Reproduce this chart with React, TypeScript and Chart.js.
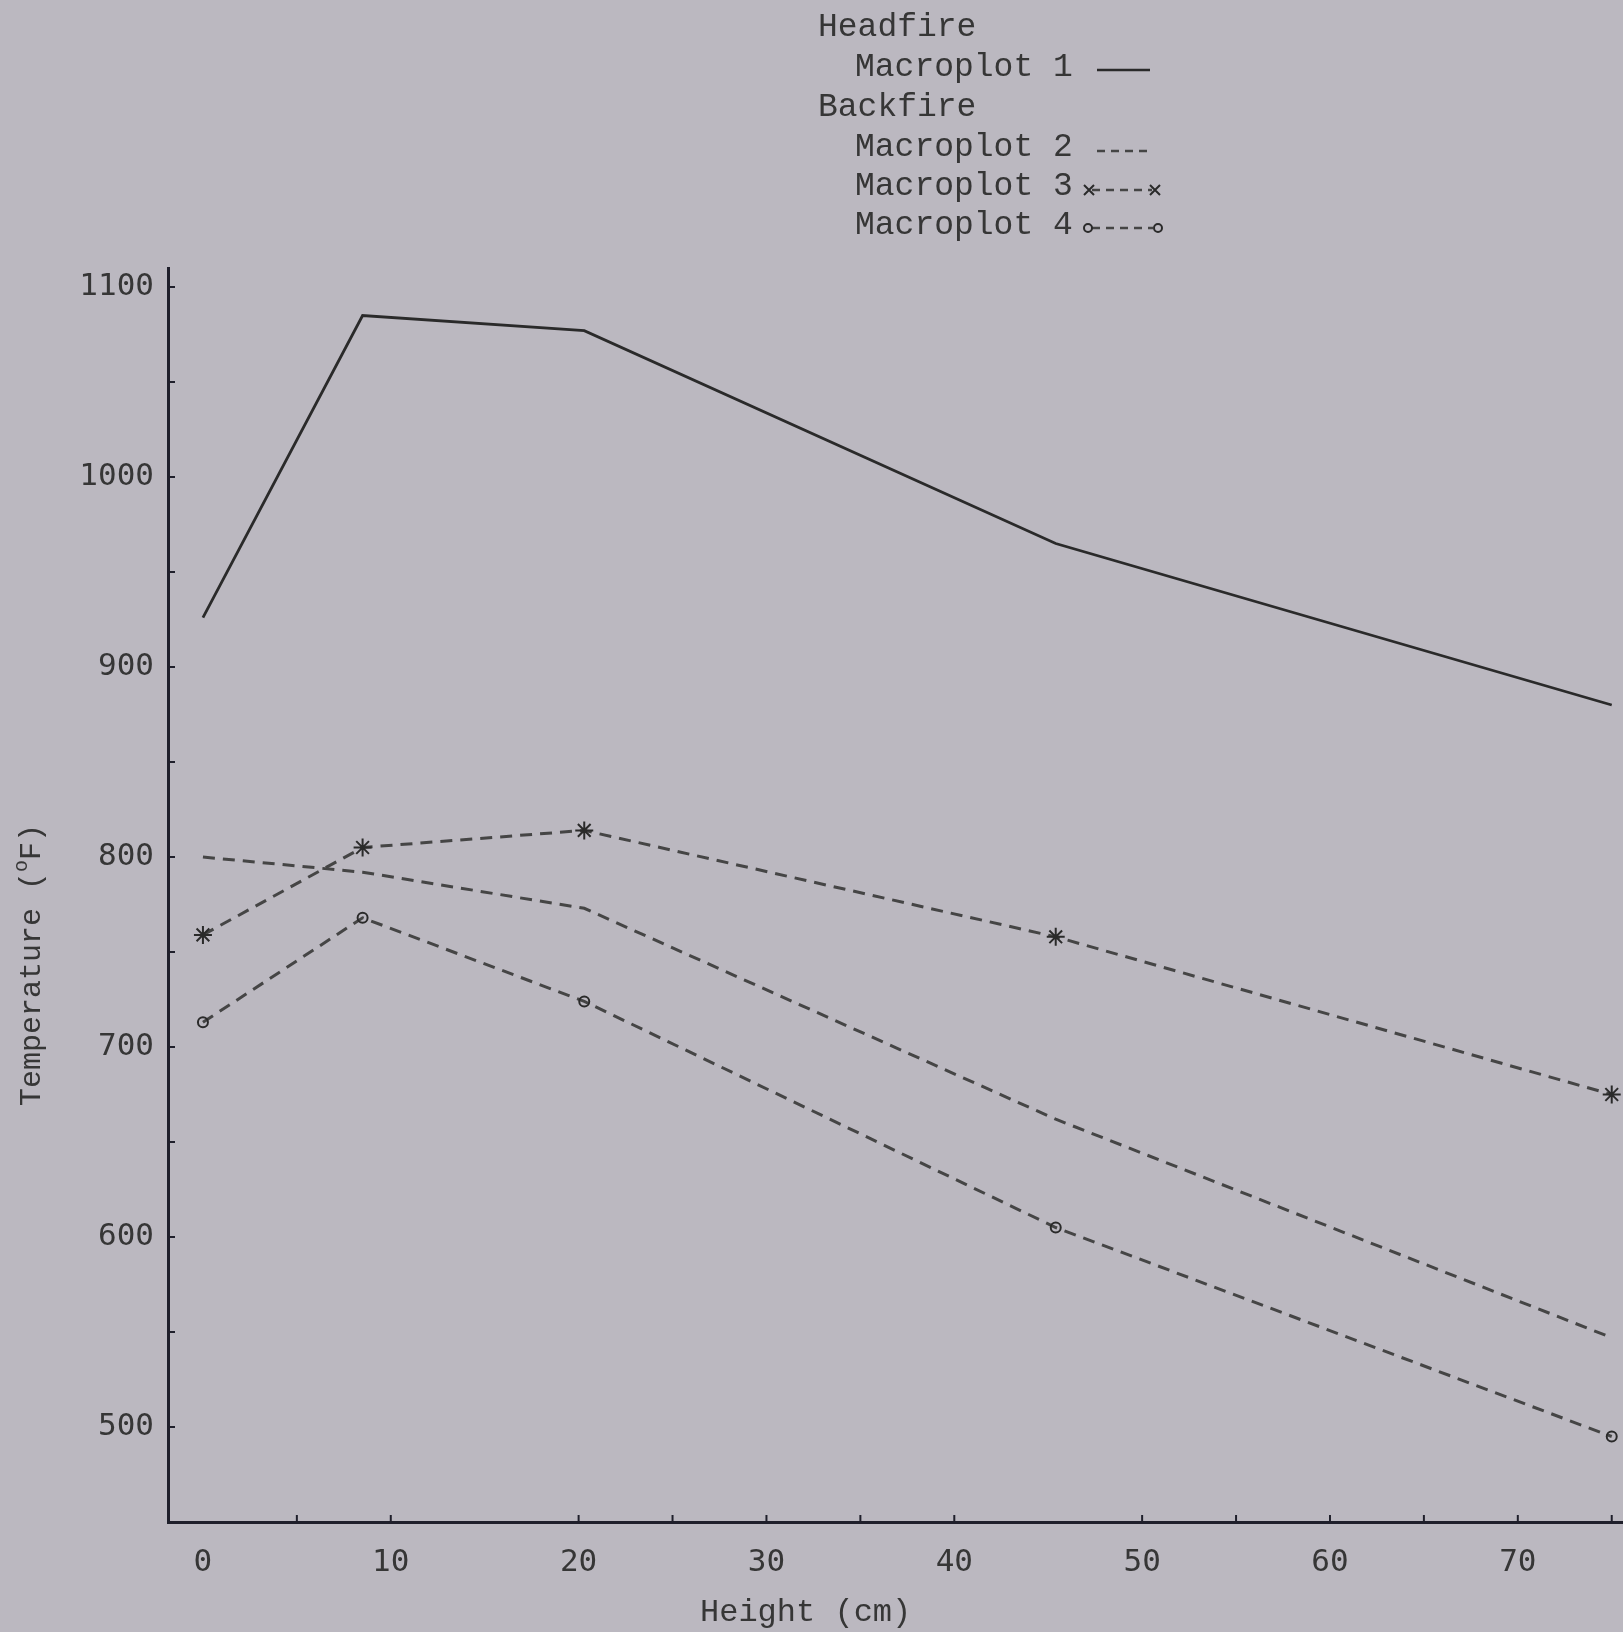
import React, { useEffect, useRef } from "react";
import { Chart, registerables } from "chart.js";

Chart.register(...registerables);

// ---- data ----
const heights = [0, 8.5, 20.3, 45.4, 75];
const macroplot1 = [926, 1085, 1077, 965, 880];
const macroplot2 = [800, 792, 773, 662, 547];
const macroplot3 = [759, 805, 814, 758, 675];
const macroplot4 = [713, 768, 724, 605, 495];

const yTickLabels = [500, 600, 700, 800, 900, 1000, 1100];
const xTickLabels = [0, 10, 20, 30, 40, 50, 60, 70];
const yTickMarks = [500, 550, 600, 650, 700, 750, 800, 850, 900, 950, 1000, 1050, 1100];
const xTickMarks = [5, 10, 20, 25, 30, 35, 40, 50, 55, 60, 65, 70, 75];

const xTitle = "Height (cm)";
const yTitleParts = ["Temperature (", "o", "F)"];
const legendGroups = ["Headfire", "Backfire"];
const seriesNames = ["Macroplot 1", "Macroplot 2", "Macroplot 3", "Macroplot 4"];

// ---- styles ----
const BG = "#bbb8c0";
const AXIS = "#1f1f2b";
const INK = "#363636";
const SOLID = "#2a2a2a";
const DASHED = "#454545";
const DASH = [12, 8];
const MONO = "'Liberation Mono', 'DejaVu Sans Mono', monospace";
const TICKFONT = "'DejaVu Sans Mono', monospace";

const toPts = (vals: number[]) => heights.map((h, i) => ({ x: h, y: vals[i] }));

const bgPlugin = {
  id: "bgFill",
  beforeDraw(chart: any) {
    const { ctx, width, height } = chart;
    ctx.save();
    ctx.fillStyle = BG;
    ctx.fillRect(0, 0, width, height);
    ctx.restore();
  },
};

function drawX(ctx: CanvasRenderingContext2D, x: number, y: number, r: number) {
  ctx.beginPath();
  ctx.moveTo(x - r, y - r);
  ctx.lineTo(x + r, y + r);
  ctx.moveTo(x - r, y + r);
  ctx.lineTo(x + r, y - r);
  ctx.stroke();
}

const decorPlugin = {
  id: "decor",
  afterDraw(chart: any) {
    const ctx: CanvasRenderingContext2D = chart.ctx;
    const xs = chart.scales.x;
    const ys = chart.scales.y;
    const area = chart.chartArea;
    ctx.save();

    // inward tick marks
    ctx.strokeStyle = AXIS;
    ctx.lineWidth = 2;
    yTickMarks.forEach((v) => {
      const py = ys.getPixelForValue(v);
      ctx.beginPath();
      ctx.moveTo(area.left, py);
      ctx.lineTo(area.left + 7, py);
      ctx.stroke();
    });
    xTickMarks.forEach((v) => {
      const px = xs.getPixelForValue(v);
      ctx.beginPath();
      ctx.moveTo(px, area.bottom);
      ctx.lineTo(px, area.bottom - 7);
      ctx.stroke();
    });

    // axis titles
    ctx.fillStyle = INK;
    ctx.font = `32px ${MONO}`;
    ctx.textBaseline = "middle";
    ctx.textAlign = "left";
    ctx.fillText(xTitle, 700, 1613);

    ctx.save();
    ctx.translate(30, 965);
    ctx.rotate(-Math.PI / 2);
    const big = `30px ${MONO}`;
    const small = `20px ${MONO}`;
    ctx.font = big;
    const w0 = ctx.measureText(yTitleParts[0]).width;
    ctx.font = small;
    const w1 = ctx.measureText(yTitleParts[1]).width;
    ctx.font = big;
    const w2 = ctx.measureText(yTitleParts[2]).width;
    let cx = -(w0 + w1 + w2) / 2;
    ctx.textBaseline = "alphabetic";
    ctx.fillText(yTitleParts[0], cx, 10);
    cx += w0;
    ctx.font = small;
    ctx.fillText(yTitleParts[1], cx, -3);
    cx += w1;
    ctx.font = big;
    ctx.fillText(yTitleParts[2], cx, 10);
    ctx.restore();

    // legend
    ctx.font = `33px ${MONO}`;
    ctx.textBaseline = "alphabetic";
    ctx.fillStyle = INK;
    const base = [36, 76, 116, 156, 195, 234];
    ctx.fillText(legendGroups[0], 818, base[0]);
    ctx.fillText(seriesNames[0], 855, base[1]);
    ctx.fillText(legendGroups[1], 818, base[2]);
    ctx.fillText(seriesNames[1], 855, base[3]);
    ctx.fillText(seriesNames[2], 855, base[4]);
    ctx.fillText(seriesNames[3], 855, base[5]);

    // legend samples
    ctx.strokeStyle = SOLID;
    ctx.lineWidth = 2.5;
    ctx.beginPath();
    ctx.moveTo(1097, base[1] - 6);
    ctx.lineTo(1150, base[1] - 6);
    ctx.stroke();

    ctx.strokeStyle = DASHED;
    ctx.lineWidth = 2.5;
    ctx.setLineDash([8, 6]);
    ctx.beginPath();
    ctx.moveTo(1097, base[3] - 5);
    ctx.lineTo(1152, base[3] - 5);
    ctx.stroke();
    ctx.beginPath();
    ctx.moveTo(1092, base[4] - 5);
    ctx.lineTo(1152, base[4] - 5);
    ctx.stroke();
    ctx.beginPath();
    ctx.moveTo(1092, base[5] - 6);
    ctx.lineTo(1153, base[5] - 6);
    ctx.stroke();
    ctx.setLineDash([]);
    ctx.lineWidth = 2;
    ctx.strokeStyle = SOLID;
    drawX(ctx, 1089, base[4] - 5, 5);
    drawX(ctx, 1155, base[4] - 5, 5);
    ctx.beginPath();
    ctx.arc(1088, base[5] - 6, 4, 0, Math.PI * 2);
    ctx.stroke();
    ctx.beginPath();
    ctx.arc(1158, base[5] - 6, 4, 0, Math.PI * 2);
    ctx.stroke();

    ctx.restore();
  },
};

export default function App() {
  const ref = useRef<HTMLCanvasElement | null>(null);

  useEffect(() => {
    document.body.style.margin = "0";
    document.body.style.background = BG;
    const canvas = ref.current;
    if (!canvas) return;
    const chart = new Chart(canvas, {
      type: "line",
      data: {
        datasets: [
          {
            label: seriesNames[0],
            data: toPts(macroplot1),
            borderColor: SOLID,
            borderWidth: 2.8,
            pointRadius: 0,
            tension: 0,
            clip: false,
          },
          {
            label: seriesNames[1],
            data: toPts(macroplot2),
            borderColor: DASHED,
            borderWidth: 3,
            borderDash: DASH,
            pointRadius: 0,
            tension: 0,
            clip: false,
          },
          {
            label: seriesNames[2],
            data: toPts(macroplot3),
            borderColor: DASHED,
            borderWidth: 3,
            borderDash: DASH,
            pointStyle: "star",
            pointRadius: 9,
            pointBorderColor: SOLID,
            pointBackgroundColor: SOLID,
            pointBorderWidth: 2,
            tension: 0,
            clip: false,
          },
          {
            label: seriesNames[3],
            data: toPts(macroplot4),
            borderColor: DASHED,
            borderWidth: 3,
            borderDash: DASH,
            pointStyle: "circle",
            pointRadius: 5,
            pointBorderColor: SOLID,
            pointBackgroundColor: "rgba(0,0,0,0)",
            pointBorderWidth: 2,
            tension: 0,
            clip: false,
          },
        ],
      } as any,
      options: {
        animation: false,
        responsive: false,
        devicePixelRatio: 1,
        layout: { autoPadding: false, padding: { top: 268, left: 0, right: 0, bottom: 0 } },
        plugins: {
          legend: { display: false },
          tooltip: { enabled: false },
          title: { display: false },
        },
        scales: {
          x: {
            type: "linear",
            min: -1.86,
            max: 75.6,
            grid: { display: false, drawTicks: false },
            border: { display: true, color: AXIS, width: 3 },
            afterBuildTicks: (scale: any) => {
              scale.ticks = xTickLabels.map((v) => ({ value: v }));
            },
            afterFit: (scale: any) => {
              scale.height = 110;
              scale.paddingLeft = 0;
              scale.paddingRight = 0;
            },
            ticks: {
              autoSkip: false,
              maxRotation: 0,
              padding: 22,
              color: INK,
              font: { family: TICKFONT, size: 31 },
              callback: (v: any) => String(v),
            },
          },
          y: {
            type: "linear",
            min: 450,
            max: 1110,
            grid: { display: false, drawTicks: false },
            border: { display: true, color: AXIS, width: 3 },
            afterBuildTicks: (scale: any) => {
              scale.ticks = yTickLabels.map((v) => ({ value: v }));
            },
            afterFit: (scale: any) => {
              scale.width = 168;
              scale.paddingTop = 0;
              scale.paddingBottom = 0;
            },
            ticks: {
              autoSkip: false,
              padding: 14,
              color: INK,
              font: { family: TICKFONT, size: 31 },
              callback: (v: any) => String(v),
            },
          },
        },
      } as any,
      plugins: [bgPlugin, decorPlugin],
    });
    return () => chart.destroy();
  }, []);

  return (
    <div style={{ width: 1623, height: 1632, background: BG }}>
      <canvas ref={ref} width={1623} height={1632} style={{ width: 1623, height: 1632, display: "block" }} />
    </div>
  );
}
